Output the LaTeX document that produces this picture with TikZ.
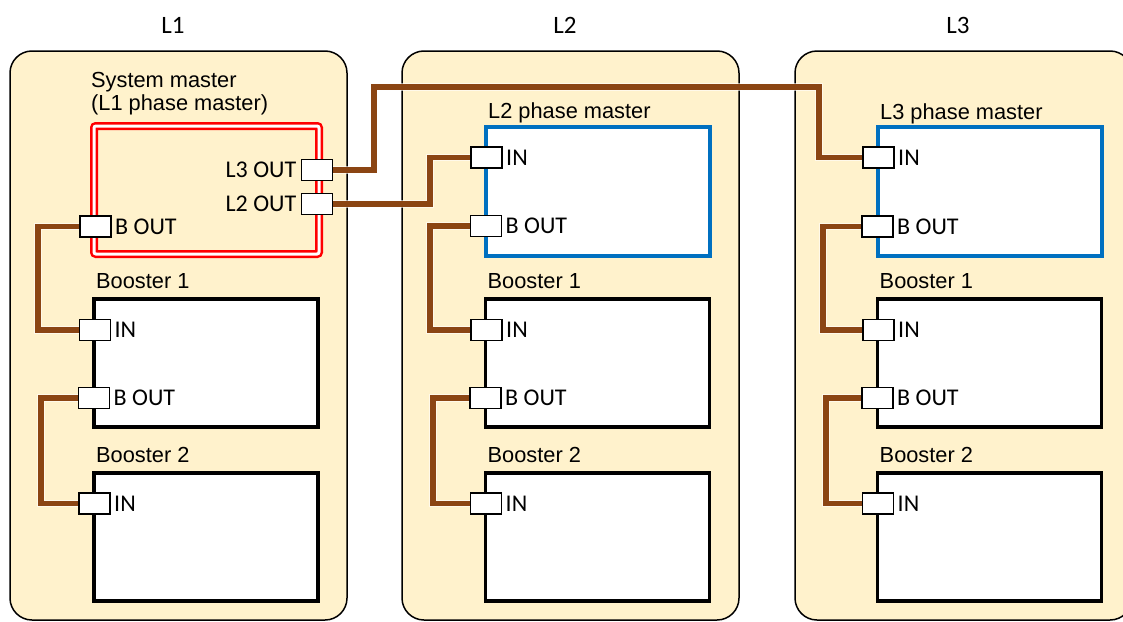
\documentclass[tikz,border=0pt]{standalone}
\usepackage{fontspec}
\setmainfont{Liberation Sans}
\newfontfamily\calib{Carlito}
\definecolor{panelfill}{RGB}{255,242,204}
\definecolor{cable}{RGB}{139,69,19}
\definecolor{mblue}{RGB}{0,112,192}
\definecolor{mred}{RGB}{255,0,0}
\tikzset{
  panel/.style={draw=black, line width=1.5pt, fill=panelfill, rounded corners=22pt},
  devbox/.style={draw=black, line width=3.2pt, fill=white},
  phasebox/.style={draw=mblue, line width=4pt, fill=white},
  sysbox/.style={draw=mred, line width=2.5pt, double=white, double distance=3pt, rounded corners=2pt},
  port/.style={draw=black, line width=1.4pt, fill=white, minimum width=31pt, minimum height=21pt, inner sep=0pt, outer sep=0pt},
  cableunder/.style={draw=white, line width=7.5pt, opacity=0.6},
  cableline/.style={draw=cable, line width=5.5pt},
  ttl/.style={font=\fontsize{21.8}{24}\selectfont, inner sep=0pt, anchor=base west},
  plabel/.style={font=\calib\fontsize{24}{26}\selectfont, inner sep=0pt},
  head/.style={font=\calib\fontsize{25}{28}\selectfont, inner sep=0pt, anchor=base}
}
\begin{document}
\begin{tikzpicture}[x=1pt, y=-1pt]
\useasboundingbox (0,0) rectangle (1123,621);
\clip (0,0) rectangle (1123,621);
% headings
\node[head] (h1) at (173,33) {L1};
\node[head] (h2) at (565,33) {L2};
\node[head] (h3) at (958,33) {L3};
% panels
\foreach \i/\o in {1/0, 2/392, 3/785} {
  \draw[panel] (10+\o,51) rectangle (347+\o,620);
}
% main boxes
\draw[sysbox] (94,126) rectangle (319,254);
\node[ttl] (t1a) at (91,87) {System master};
\node[ttl] (t1b) at (91,110) {(L1 phase master)};
\draw[phasebox] (486,127) rectangle (710,256);
\node[ttl] (t2) at (488,118) {L2 phase master};
\draw[phasebox] (878,127) rectangle (1102,256);
\node[ttl] (t3) at (880,119) {L3 phase master};
% boosters
\foreach \i/\o in {1/0, 2/391.5, 3/783.5} {
  \draw[devbox] (94+\o,299) rectangle (318+\o,427);
  \draw[devbox] (94+\o,473) rectangle (318+\o,601);
  \node[ttl] (b1t-\i) at (96+\o,288) {Booster 1};
  \node[ttl] (b2t-\i) at (96+\o,462) {Booster 2};
}
% ports
\node[port] (l3out) at (317,170) {};
\node[port] (l2out) at (317,204) {};
\node[port] (mbout-1) at (95.5,226.5) {};
\node[port] (in-2) at (486.5,157.5) {};
\node[port] (mbout-2) at (486,226) {};
\node[port] (in-3) at (878.5,157.5) {};
\node[port] (mbout-3) at (877.5,226.5) {};
\foreach \i/\o in {1/0, 2/391.5, 3/783.5} {
  \node[port] (b1in-\i) at (95+\o,330) {};
  \node[port] (b1out-\i) at (94+\o,398) {};
  \node[port] (b2in-\i) at (94.5+\o,503.5) {};
}
% cables
\foreach \s in {cableunder, cableline} {
  \draw[\s] (l3out.east) -| (374,87) -| (819,157.5) -- (in-3.west);
  \draw[\s] (l2out.east) -| (430,157.5) -- (in-2.west);
  \draw[\s] (mbout-1.west) -| (38,330) -- (b1in-1.west);
  \draw[\s] (b1out-1.west) -| (41,503.5) -- (b2in-1.west);
  \draw[\s] (mbout-2.west) -| (430,330) -- (b1in-2.west);
  \draw[\s] (b1out-2.west) -| (433,503.5) -- (b2in-2.west);
  \draw[\s] (mbout-3.west) -| (823,330) -- (b1in-3.west);
  \draw[\s] (b1out-3.west) -| (826,503.5) -- (b2in-3.west);
}
% redraw ports on top
\foreach \n in {l3out, l2out, mbout-1, in-2, mbout-2, in-3, mbout-3, b1in-1, b1out-1, b2in-1, b1in-2, b1out-2, b2in-2, b1in-3, b1out-3, b2in-3} {
  \draw[draw=black, line width=1.4pt, fill=white] (\n.south west) rectangle (\n.north east);
}
% port labels
\node[plabel, anchor=east] (l3outt) at ([xshift=-5pt]l3out.west) {L3 OUT};
\node[plabel, anchor=east] (l2outt) at ([xshift=-5pt]l2out.west) {L2 OUT};
\foreach \n/\t in {mbout-1/B OUT, mbout-2/B OUT, mbout-3/B OUT, in-2/IN, in-3/IN, b1in-1/IN, b1in-2/IN, b1in-3/IN, b1out-1/B OUT, b1out-2/B OUT, b1out-3/B OUT, b2in-1/IN, b2in-2/IN, b2in-3/IN} {
  \node[plabel, anchor=west] at ([xshift=4pt]\n.east) {\t};
}
\end{tikzpicture}
\end{document}
